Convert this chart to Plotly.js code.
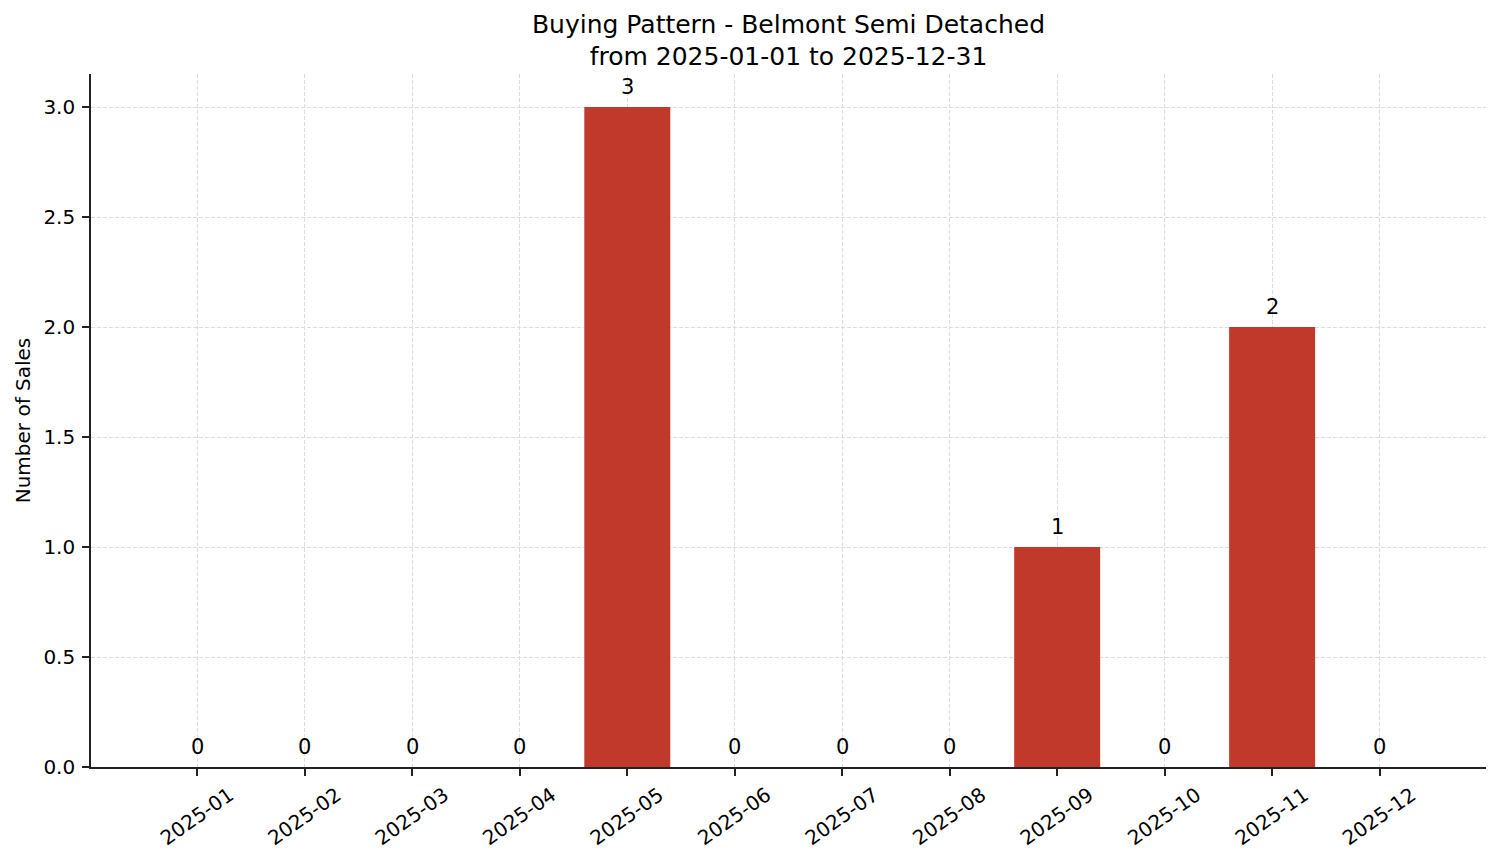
<!DOCTYPE html>
<html>
<head>
<meta charset="utf-8">
<script src="https://cdn.plot.ly/plotly-3.0.1.min.js"></script>
<style>
  html, body { margin: 0; padding: 0; background: #fff; }
  #chart { width: 1501px; height: 863px; }
</style>
</head>
<body>
<div id="chart"></div>
<script>
// monthly sales counts
var months = ['2025-01', '2025-02', '2025-03', '2025-04', '2025-05', '2025-06',
              '2025-07', '2025-08', '2025-09', '2025-10', '2025-11', '2025-12'];
var sales = [0, 0, 0, 0, 3, 0, 0, 0, 1, 0, 2, 0];
var yTicks = [0, 0.5, 1.0, 1.5, 2.0, 2.5, 3.0];

var font = 'DejaVu Sans, sans-serif';

var trace1 = {
  x: months,
  y: sales,
  type: 'bar',
  width: 0.8,
  hoverinfo: 'x+y',
  marker: {
    color: '#c0392b'
  }
};

// value labels over each bar
var labels = months.map(function (m, i) {
  return {
    x: m,
    y: sales[i],
    text: String(sales[i]),
    showarrow: false,
    xanchor: 'center',
    yanchor: 'bottom',
    yshift: 6,
    font: { family: font, size: 21, color: '#000' }
  };
});

var layout = {
  width: 1501,
  height: 863,
  paper_bgcolor: '#fff',
  plot_bgcolor: '#fff',
  font: { family: font, size: 20, color: '#000' },
  showlegend: false,
  title: {
    text: 'Buying Pattern - Belmont Semi Detached<br>from 2025-01-01 to 2025-12-31',
    x: 0.5,
    xref: 'paper',
    y: 0.962,
    yref: 'container',
    yanchor: 'top',
    font: { family: font, size: 25, color: '#000' }
  },
  xaxis: {
    type: 'category',
    range: [-0.99, 11.99],
    tickangle: -35,
    ticklabelshift: 32,
    ticks: 'outside',
    ticklen: 7,
    tickwidth: 1.5,
    tickcolor: '#222',
    showline: true,
    linecolor: '#222',
    linewidth: 1.6,
    showgrid: true,
    gridcolor: '#dcdcdc',
    gridwidth: 1,
    griddash: '4px,2px',
    zeroline: false,
    tickfont: { family: font, size: 20, color: '#000' }
  },
  yaxis: {
    range: [0, 3.15],
    tickvals: yTicks,
    tickformat: '.1f',
    ticks: 'outside',
    ticklen: 7,
    tickwidth: 1.5,
    tickcolor: '#222',
    ticklabelstandoff: 3,
    showline: true,
    linecolor: '#222',
    linewidth: 1.6,
    showgrid: true,
    gridcolor: '#dcdcdc',
    gridwidth: 1,
    griddash: '4px,2px',
    zeroline: false,
    tickfont: { family: font, size: 20, color: '#000' },
    title: {
      text: 'Number of Sales',
      standoff: 7,
      font: { family: font, size: 20, color: '#000' }
    }
  },
  annotations: labels,
  margin: {
    t: 74,
    r: 15,
    b: 96,
    l: 91
  }
};

var config = {
  responsive: false,
  displayModeBar: false
};

Plotly.newPlot('chart', [trace1], layout, config);
</script>
</body>
</html>
